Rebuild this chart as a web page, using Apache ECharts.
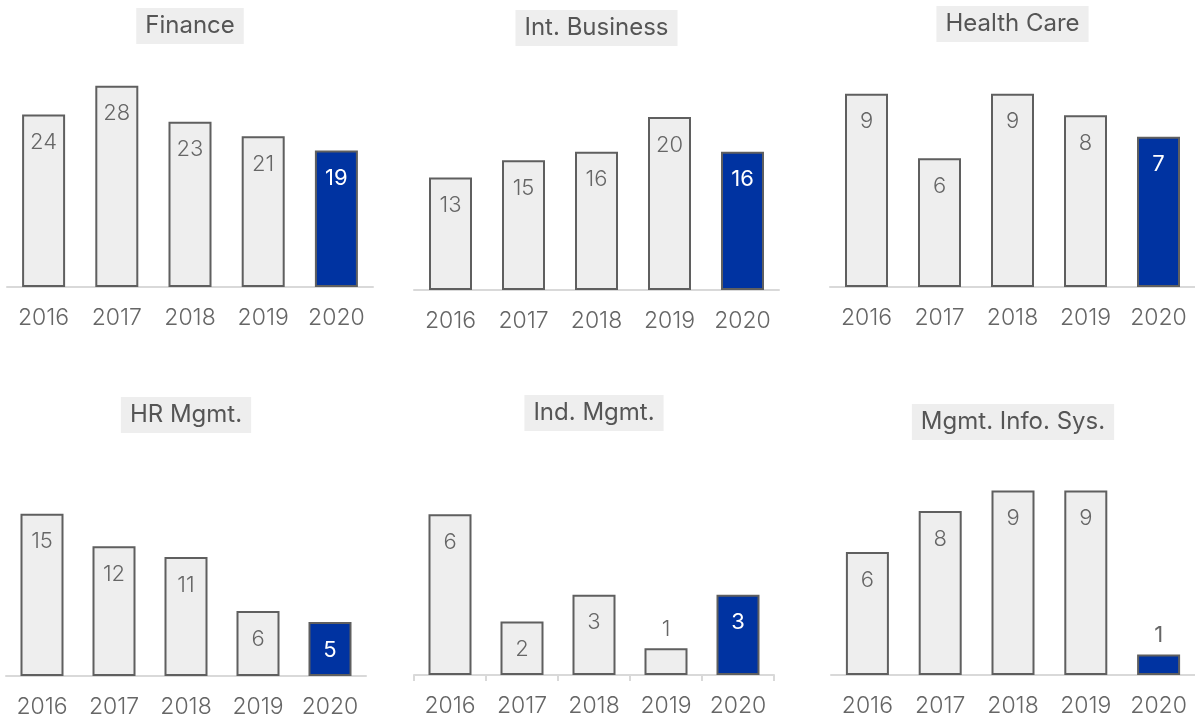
<!DOCTYPE html>
<html>
<head>
<meta charset="utf-8">
<script src="https://cdn.jsdelivr.net/npm/echarts@6/dist/echarts.min.js"></script>
<style>html,body{margin:0;padding:0;background:#fff}#c{width:1195px;height:721px}</style>
</head>
<body>
<div id="c"></div>
<script>
const years = ['2016','2017','2018','2019','2020'];
const titles = ['Finance','Int. Business','Health Care','HR Mgmt.','Ind. Mgmt.','Mgmt. Info. Sys.'];
const finance = [24, 28, 23, 21, 19];
const intBusiness = [13, 15, 16, 20, 16];
const healthCare = [9, 6, 9, 8, 7];
const hrMgmt = [15, 12, 11, 6, 5];
const indMgmt = [6, 2, 3, 1, 3];
const mis = [6, 8, 9, 9, 1];
const seriesData = [finance, intBusiness, healthCare, hrMgmt, indMgmt, mis];

// layout: [left, right-edge, gridTop, axisY, yMax, titleTop, ticks]
const layout = [
  [7, 373, 60, 287, 31.6, 8, false],
  [414, 779, 60, 290, 26.6, 10, false],
  [830, 1195, 60, 287, 10.57, 6, false],
  [6, 366, 450, 676, 20.9, 397, false],
  [414, 774, 450, 675, 8.4, 395, true],
  [831, 1195, 450, 675, 10.98, 404, false]
];

const FONT = 'Inter, "Noto Sans", sans-serif';
const grids = [], xAxes = [], yAxes = [], series = [], graphics = [];
layout.forEach((L, i) => {
  const [l, r, t, b, ymax, tt, ticks] = L;
  grids.push({left: l, top: t, width: r - l, height: b - t, containLabel: false});
  xAxes.push({
    type: 'category', gridIndex: i, data: years,
    axisLine: {show: true, lineStyle: {color: '#d9d9d9', width: 2}},
    axisTick: {show: ticks, interval: 0, length: 6, lineStyle: {color: '#d9d9d9', width: 2}},
    axisLabel: {color: '#666', fontSize: 23, fontFamily: FONT, fontWeight: 300, margin: 20,
                interval: 0, hideOverlap: false}
  });
  yAxes.push({type: 'value', gridIndex: i, min: 0, max: ymax, show: false, splitLine: {show: false}});
  const data = seriesData[i].map((v, j) => {
    const last = j === years.length - 1;
    const small = v / ymax < 0.15;
    return {
      value: v,
      itemStyle: {color: last ? '#0033a1' : '#eeeeee', borderColor: '#5f5f5f', borderWidth: 2},
      label: {
        position: small ? 'top' : 'insideTop',
        distance: small ? 8 : 17,
        color: (last && !small) ? '#ffffff' : '#666',
        fontWeight: last ? 400 : 300
      }
    };
  });
  series.push({
    type: 'bar', xAxisIndex: i, yAxisIndex: i, barWidth: 43, data: data,
    label: {show: true, fontSize: 22, fontFamily: FONT},
    silent: true, animation: false
  });
  graphics.push({
    type: 'text', x: (l + r) / 2, y: tt, silent: true,
    style: {
      text: titles[i], align: 'center', verticalAlign: 'top',
      fill: '#555', fontSize: 24, fontWeight: 400, fontFamily: FONT,
      backgroundColor: '#eeeeee', padding: [6, 9]
    }
  });
});

const chart = echarts.init(document.getElementById('c'), null, {renderer: 'canvas'});
chart.setOption({
  animation: false,
  graphic: graphics,
  grid: grids, xAxis: xAxes, yAxis: yAxes, series: series
});
</script>
</body>
</html>
